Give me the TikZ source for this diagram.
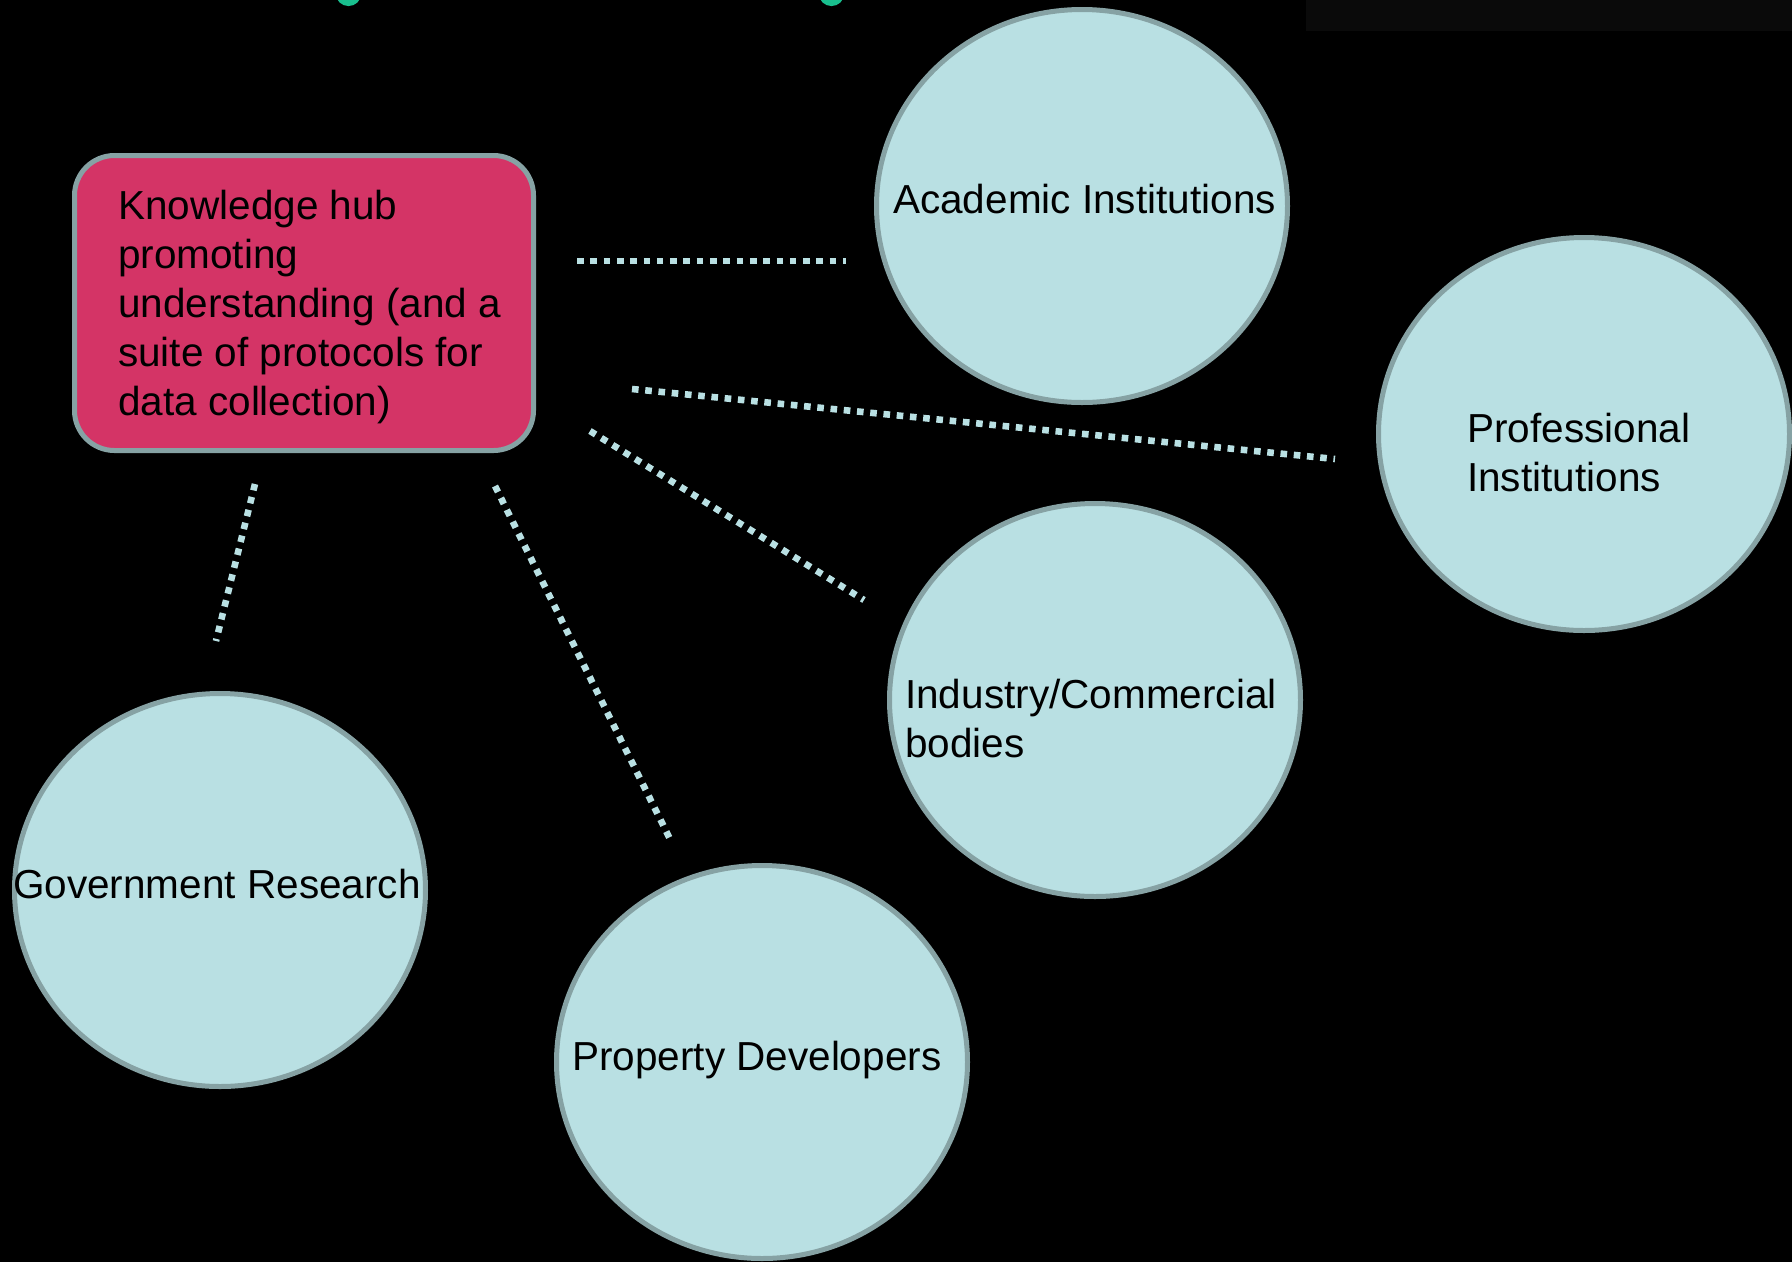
\documentclass[tikz,border=0pt]{standalone}
\usepackage{fontspec}
\setmainfont{Liberation Sans}
\usetikzlibrary{shapes.geometric}

\definecolor{hubfill}{HTML}{D43466}
\definecolor{rimgray}{HTML}{86A2A4}
\definecolor{orgfill}{HTML}{B9E0E3}
\definecolor{titlegreen}{HTML}{19BF8E}
\definecolor{bandgray}{HTML}{0A0A0A}

\newcommand\orgfont{\fontsize{40.5}{49}\selectfont}

\begin{document}
\begin{tikzpicture}[x=1pt,y=-1pt,
  hub/.style={draw=rimgray, line width=5pt, fill=hubfill, rounded corners=40pt,
    minimum width=459pt, minimum height=295pt, inner sep=0pt},
  org/.style={ellipse, draw=rimgray, line width=5pt, fill=orgfill, inner sep=0pt,
    minimum width=411pt, minimum height=393pt},
  orgtext/.style={inner sep=0pt, align=left, font=\orgfont, text=black},
  dotline/.style={draw=orgfill, line width=6.6pt, line cap=butt,
    dash pattern=on 6.6pt off 6.7pt},
  titlebit/.style={draw=titlegreen, line width=6pt}
]
% page and background
\useasboundingbox (0,0) rectangle (1792,1262);
\fill[black] (0,0) rectangle (1792,1262);
\fill[bandgray] (1306,0) rectangle (1792,31);

% descenders of the heading above the frame
\draw[titlebit] (339,-6) arc[start angle=180, end angle=0, x radius=9.5, y radius=9];
\draw[titlebit] (822,-6) arc[start angle=180, end angle=0, x radius=9.5, y radius=9];

% the hub
\node[hub] (hub) at (304,303) {};
\node[orgtext, anchor=north west] (hubtext) at (118,190.3)
  {Knowledge hub\\promoting\\understanding (and a\\suite of protocols for\\data collection)};

% partner bodies
\node[org] (acad) at (1082,206) {};
\node[orgtext, anchor=base west] (acadtext) at (893,213) {Academic Institutions};

\node[org] (prof) at (1584,434) {};
\node[orgtext, anchor=north west] (proftext) at (1467,412.5) {Professional\\Institutions};

\node[org] (ind) at (1095,700) {};
\node[orgtext, anchor=north west] (indtext) at (905,678.5) {Industry/Commercial\\bodies};

\node[org] (gov) at (220,890) {};
\node[orgtext, anchor=base west] (govtext) at (13,898) {Government Research};

\node[org] (prop) at (762,1062) {};
\node[orgtext, anchor=base west] (proptext) at (572,1070) {Property Developers};

% loose ends of the dotted links
\coordinate (hubE1) at (577,261);
\coordinate (acadW) at (846,261);
\coordinate (hubE2) at (632,389);
\coordinate (profW) at (1335,459);
\coordinate (hubSE) at (590,431);
\coordinate (indNW) at (864,600);
\coordinate (hubS1) at (495,486);
\coordinate (propN) at (672,843);
\coordinate (hubS2) at (255,484);
\coordinate (govN) at (216,641);

\draw[dotline] (hubE1) -- (acadW);
\draw[dotline] (hubE2) -- (profW);
\draw[dotline] (hubSE) -- (indNW);
\draw[dotline] (hubS1) -- (propN);
\draw[dotline] (hubS2) -- (govN);
\end{tikzpicture}
\end{document}
